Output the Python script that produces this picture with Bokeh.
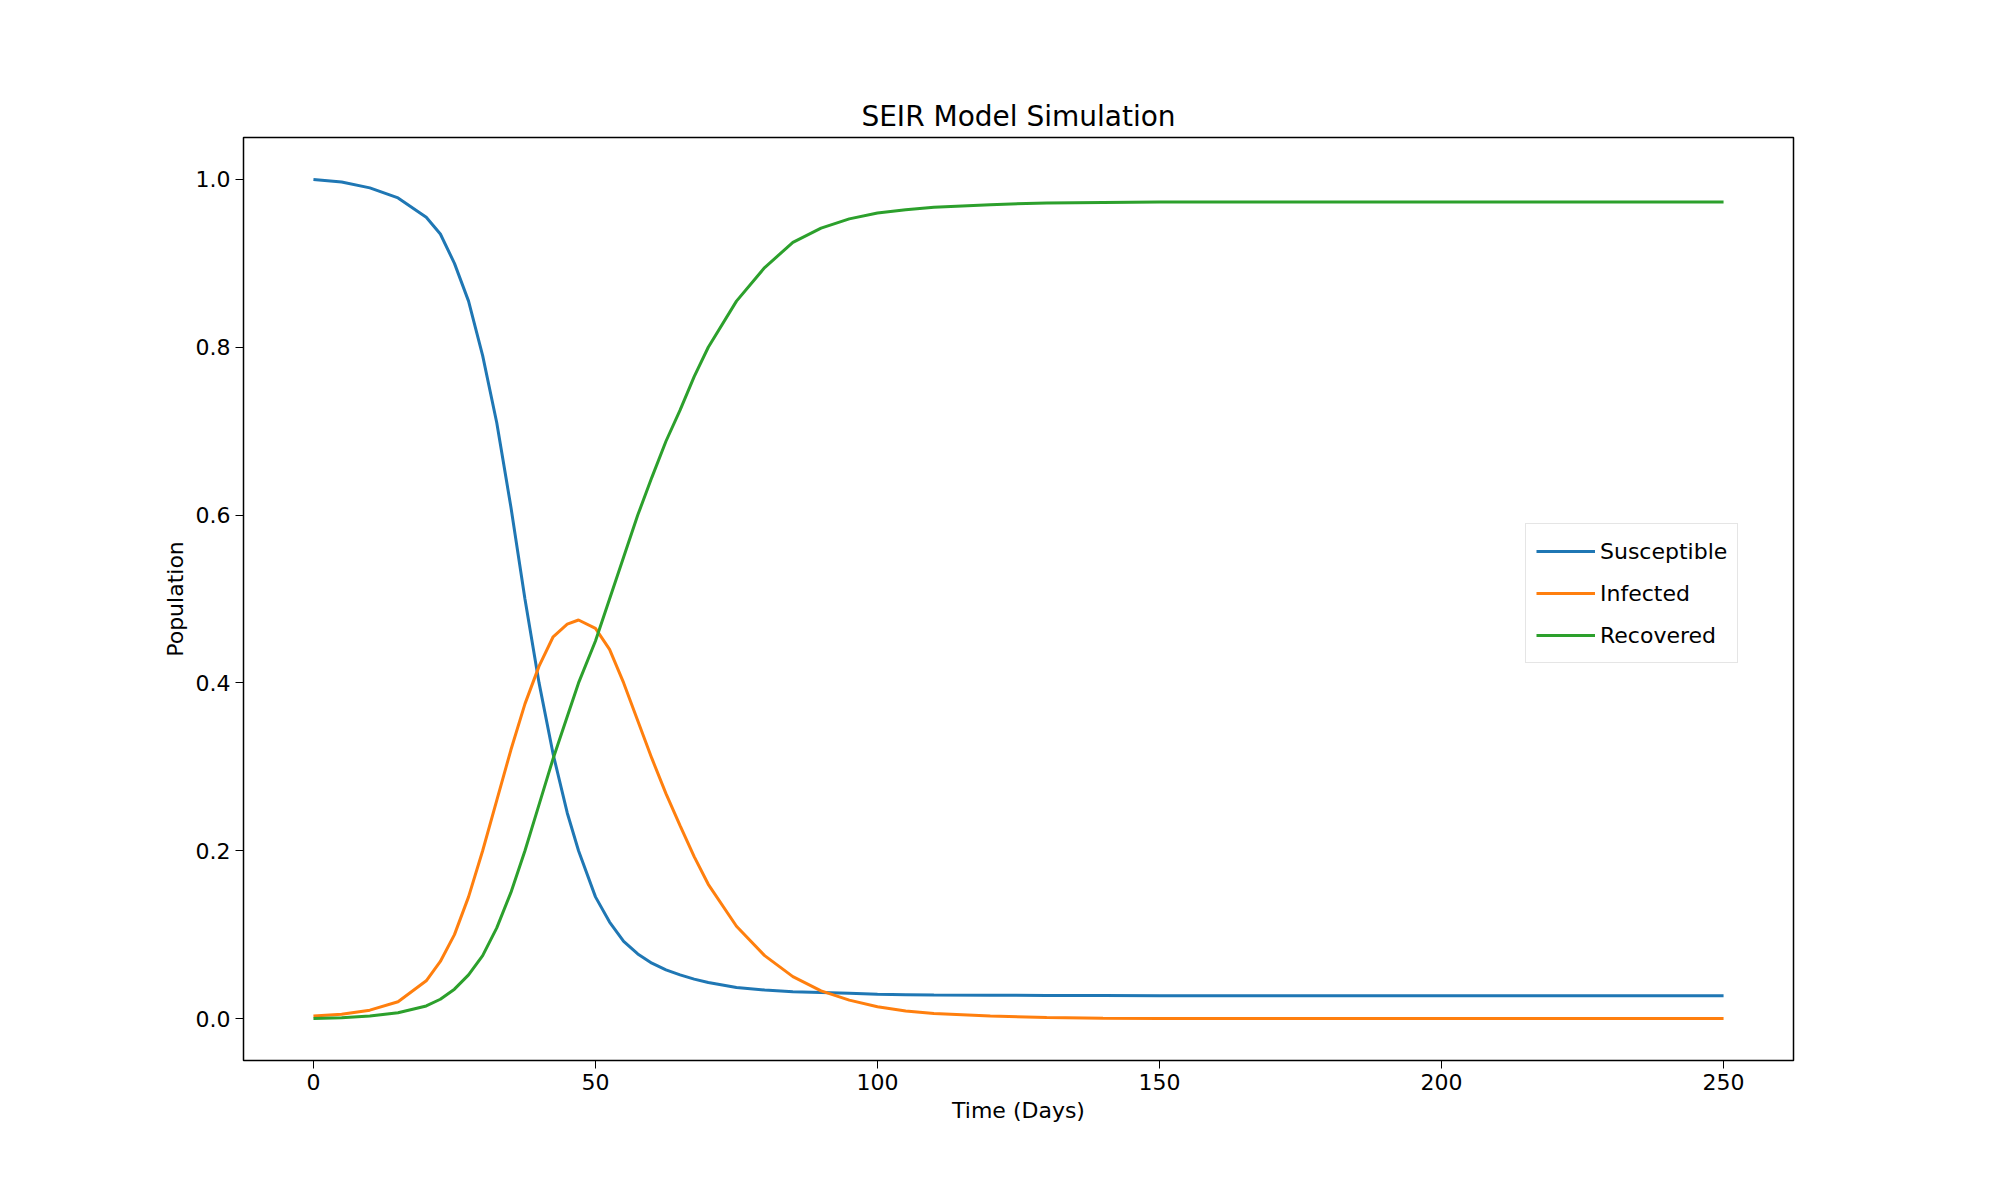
from bokeh.plotting import figure
from bokeh.models import Legend, FixedTicker, CustomJSTickFormatter
from bokeh.embed import file_html
from bokeh.resources import INLINE

days = [0, 5, 10, 15, 20, 22.5, 25, 27.5, 30, 32.5, 35, 37.5, 40, 42.5, 45, 47,
        50, 52.5, 55, 57.5, 60, 62.5, 65, 67.5, 70, 75, 80, 85, 90, 95, 100, 105,
        110, 120, 130, 140, 150, 175, 200, 225, 250]
susceptible = [1.0, 0.997, 0.99, 0.978, 0.955, 0.935, 0.90, 0.855, 0.79, 0.71,
               0.61, 0.50, 0.40, 0.315, 0.245, 0.20, 0.145, 0.115, 0.092, 0.077,
               0.066, 0.058, 0.052, 0.047, 0.043, 0.037, 0.034, 0.032, 0.031, 0.030,
               0.029, 0.0285, 0.028, 0.0278, 0.0275, 0.0274, 0.0273, 0.0272, 0.0272,
               0.0272, 0.0272]
infected = [0.003, 0.005, 0.01, 0.02, 0.045, 0.068, 0.10, 0.145, 0.20, 0.26,
            0.32, 0.375, 0.42, 0.455, 0.47, 0.475, 0.465, 0.44, 0.40, 0.355,
            0.31, 0.268, 0.23, 0.193, 0.16, 0.11, 0.075, 0.05, 0.033, 0.022,
            0.014, 0.009, 0.006, 0.003, 0.0012, 0.0005, 0.0002, 0.0, 0.0, 0.0, 0.0]
recovered = [0.0, 0.001, 0.003, 0.007, 0.015, 0.023, 0.035, 0.052, 0.075, 0.108,
             0.15, 0.20, 0.255, 0.31, 0.36, 0.40, 0.45, 0.50, 0.55, 0.60, 0.645,
             0.688, 0.725, 0.765, 0.80, 0.855, 0.895, 0.925, 0.942, 0.953, 0.960,
             0.964, 0.967, 0.970, 0.972, 0.9725, 0.973, 0.973, 0.973, 0.973, 0.973]
series = [("Susceptible", susceptible, "#1f77b4"),
          ("Infected", infected, "#ff7f0e"),
          ("Recovered", recovered, "#2ca02c")]

p = figure(width=1984, height=1184, x_range=(-12.4, 262.4), y_range=(-0.05, 1.05),
           output_backend="svg", toolbar_location=None, title="SEIR Model Simulation",
           min_border_left=243, min_border_right=191, min_border_top=137,
           min_border_bottom=124)
p.title.align = "center"
p.title.text_font = "DejaVu Sans"
p.title.text_font_size = "28px"
p.title.text_font_style = "normal"
p.title.text_color = "black"
p.outline_line_color = "black"
p.outline_line_width = 1.5
p.grid.visible = False

for ax in (p.xaxis, p.yaxis):
    ax.minor_tick_line_color = None
    ax.major_tick_out = 8
    ax.major_tick_in = 0
    ax.major_tick_line_color = "black"
    ax.axis_line_color = "black"
    ax.major_label_text_font = "DejaVu Sans"
    ax.major_label_text_font_size = "22px"
    ax.major_label_text_color = "black"
    ax.axis_label_text_font = "DejaVu Sans"
    ax.axis_label_text_font_size = "22px"
    ax.axis_label_text_font_style = "normal"
    ax.axis_label_text_color = "black"
p.xaxis.ticker = FixedTicker(ticks=[0, 50, 100, 150, 200, 250])
p.yaxis.ticker = FixedTicker(ticks=[0.0, 0.2, 0.4, 0.6, 0.8, 1.0])
p.yaxis.formatter = CustomJSTickFormatter(code="return tick.toFixed(1)")
p.xaxis.axis_label = "Time (Days)"
p.yaxis.axis_label = "Population"

items = []
for name, vals, color in series:
    r = p.line(days, vals, line_color=color, line_width=3)
    items.append((name, [r]))

legend = Legend(items=items, location=(1282, 397), label_text_font="DejaVu Sans",
                label_text_font_size="22px", label_text_color="black",
                glyph_width=59, label_height=34, glyph_height=34, spacing=8,
                border_line_color="#cccccc", border_line_width=1.5,
                padding=10, margin=0)
p.add_layout(legend, "center")

open("out.html", "w").write(file_html(p, INLINE))
